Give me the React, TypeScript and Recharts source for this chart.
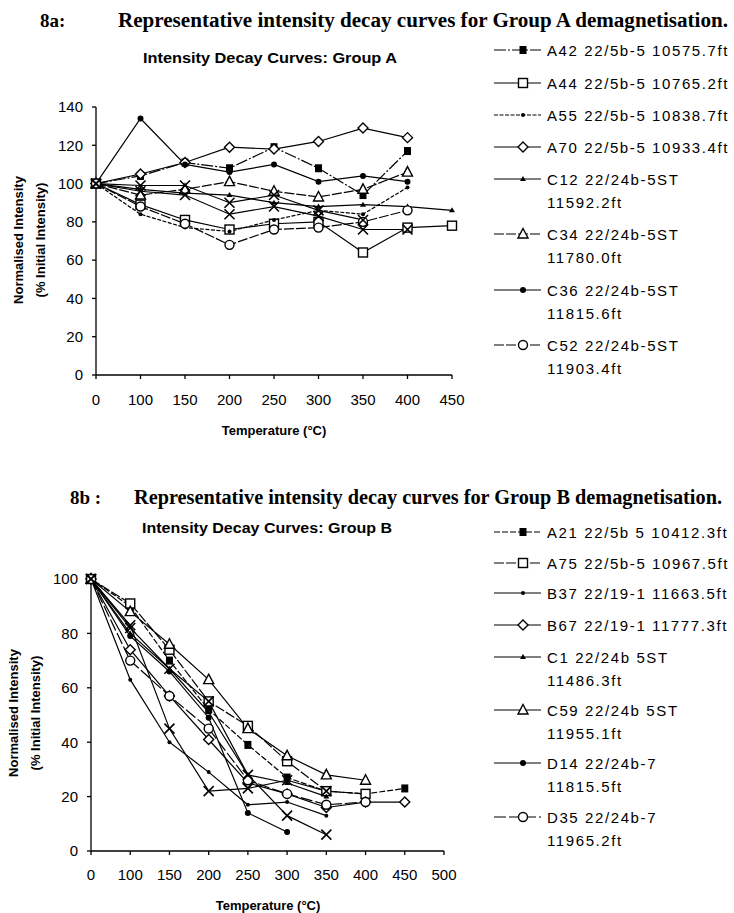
import { LineChart, Line, XAxis, YAxis } from "recharts";

// Group A (8a) – temperature steps and normalised intensity (%)
const tempA = ["0", "100", "150", "200", "250", "300", "350", "400", "450"];
const a42 = [100, 104, 111, 108, 119, 108, 94, 117, null];
const a44 = [100, 89, 81, 76, 79, 80, 64, 77, 78];
const a55 = [100, 84, 77, 75, 81, 86, 84, 98, null];
const a70 = [100, 105, 111, 119, 118, 122, 129, 124, null];
const c12 = [100, 97, 95, 94, 90, 88, 89, 88, 86];
const c34 = [100, 94, 97, 101, 96, 93, 97, 106, null];
const c36 = [100, 134, 110, 106, 110, 101, 104, 101, null];
const c52 = [100, 88, 79, 68, 76, 77, 80, 86, null];
const xa1 = [100, 99, 99, 90, 94, 86, 81, null, null];
const xa2 = [100, 96, 94, 84, 88, 83, 76, 76, null];

// Group B (8b)
const tempB = ["0", "100", "150", "200", "250", "300", "350", "400", "450", "500"];
const a21 = [100, 90, 70, 52, 39, 27, 22, 21, 23, null];
const a75 = [100, 91, 74, 55, 46, 33, 22, 21, null, null];
const b37 = [100, 63, 40, 29, 17, 18, 13, null, null, null];
const b67 = [100, 74, 57, 41, 25, 21, 16, 18, 18, null];
const c1 = [100, 80, 67, 51, 28, 25, 20, null, null, null];
const c59 = [100, 88, 76, 63, 45, 35, 28, 26, null, null];
const d14 = [100, 79, 66, 49, 14, 7, null, null, null, null];
const d35 = [100, 70, 57, 45, 26, 21, 17, 18, null, null];
const xb1 = [100, 83, 45, 22, 23, 26, 22, null, null, null];
const xb2 = [100, 82, 67, 55, 28, 13, 6, null, null, null];

const ticksA = [0, 20, 40, 60, 80, 100, 120, 140];
const ticksB = [0, 20, 40, 60, 80, 100];

type Shape = "sq" | "osq" | "dot" | "dia" | "tri" | "otri" | "circ" | "ocirc" | "x";

interface Series {
  key: string;
  label?: string[];
  values: (number | null)[];
  shape: Shape;
  dash?: string;
}

const seriesA: Series[] = [
  { key: "A42", label: ["A42 22/5b-5 10575.7ft"], values: a42, shape: "sq", dash: "12 2 2 2" },
  { key: "A44", label: ["A44 22/5b-5 10765.2ft"], values: a44, shape: "osq" },
  { key: "A55", label: ["A55 22/5b-5 10838.7ft"], values: a55, shape: "dot", dash: "4 1.5" },
  { key: "A70", label: ["A70 22/5b-5 10933.4ft"], values: a70, shape: "dia" },
  { key: "C12", label: ["C12 22/24b-5ST", "11592.2ft"], values: c12, shape: "tri" },
  { key: "C34", label: ["C34 22/24b-5ST", "11780.0ft"], values: c34, shape: "otri", dash: "10 2" },
  { key: "C36", label: ["C36 22/24b-5ST", "11815.6ft"], values: c36, shape: "circ" },
  { key: "C52", label: ["C52 22/24b-5ST", "11903.4ft"], values: c52, shape: "ocirc", dash: "10 2" },
  { key: "XA1", values: xa1, shape: "x" },
  { key: "XA2", values: xa2, shape: "x" },
];

const seriesB: Series[] = [
  { key: "A21", label: ["A21 22/5b 5 10412.3ft"], values: a21, shape: "sq", dash: "6 2" },
  { key: "A75", label: ["A75 22/5b-5 10967.5ft"], values: a75, shape: "osq", dash: "10 2" },
  { key: "B37", label: ["B37 22/19-1 11663.5ft"], values: b37, shape: "dot" },
  { key: "B67", label: ["B67 22/19-1 11777.3ft"], values: b67, shape: "dia" },
  { key: "C1", label: ["C1 22/24b 5ST", "11486.3ft"], values: c1, shape: "tri" },
  { key: "C59", label: ["C59 22/24b 5ST", "11955.1ft"], values: c59, shape: "otri" },
  { key: "D14", label: ["D14 22/24b-7", "11815.5ft"], values: d14, shape: "circ" },
  { key: "D35", label: ["D35 22/24b-7", "11965.2ft"], values: d35, shape: "ocirc", dash: "12 3" },
  { key: "XB1", values: xb1, shape: "x" },
  { key: "XB2", values: xb2, shape: "x" },
];

const buildRows = (cats: string[], series: Series[]) =>
  cats.map((t, i) => {
    const row: Record<string, string | number | null> = { t };
    series.forEach((s) => (row[s.key] = s.values[i] ?? null));
    return row;
  });

const dataA = buildRows(tempA, seriesA);
const dataB = buildRows(tempB, seriesB);

const SANS = "'Liberation Sans', Arial, sans-serif";
const SERIF = "'Liberation Serif', 'Times New Roman', serif";

const Mark = ({ cx, cy, shape }: { cx: number; cy: number; shape: Shape }) => {
  switch (shape) {
    case "sq":
      return <rect x={cx - 3.5} y={cy - 4} width={7} height={8} fill="#000" />;
    case "osq":
      return <rect x={cx - 4.5} y={cy - 4.5} width={9} height={9} fill="#fff" stroke="#000" strokeWidth={1.4} />;
    case "dot":
      return <circle cx={cx} cy={cy} r={2} fill="#000" />;
    case "dia":
      return (
        <polygon
          points={`${cx},${cy - 5} ${cx + 5},${cy} ${cx},${cy + 5} ${cx - 5},${cy}`}
          fill="#fff"
          stroke="#000"
          strokeWidth={1.4}
        />
      );
    case "tri":
      return <polygon points={`${cx},${cy - 3} ${cx + 3},${cy + 2} ${cx - 3},${cy + 2}`} fill="#000" />;
    case "otri":
      return (
        <polygon
          points={`${cx},${cy - 5.5} ${cx + 5},${cy + 4} ${cx - 5},${cy + 4}`}
          fill="#fff"
          stroke="#000"
          strokeWidth={1.4}
        />
      );
    case "circ":
      return <circle cx={cx} cy={cy} r={3} fill="#000" />;
    case "ocirc":
      return <circle cx={cx} cy={cy} r={4.5} fill="#fff" stroke="#000" strokeWidth={1.4} />;
    case "x":
      return (
        <g stroke="#000" strokeWidth={1.6}>
          <line x1={cx - 5} y1={cy - 5} x2={cx + 5} y2={cy + 5} />
          <line x1={cx - 5} y1={cy + 5} x2={cx + 5} y2={cy - 5} />
        </g>
      );
  }
  return null;
};

const renderLines = (series: Series[]) =>
  series.map((s) => (
    <Line
      key={s.key}
      dataKey={s.key}
      stroke="#000"
      strokeWidth={1.2}
      strokeDasharray={s.dash}
      isAnimationActive={false}
      dot={(p: any) =>
        p.cy == null || p.value == null ? (
          <g key={`${s.key}-${p.index}`} />
        ) : (
          <Mark key={`${s.key}-${p.index}`} cx={p.cx} cy={p.cy} shape={s.shape} />
        )
      }
      activeDot={false}
    />
  ));

const tickStyle = { fontSize: 15, fill: "#000", fontFamily: SANS };

const Legend = ({ series, ys }: { series: Series[]; ys: number[] }) => (
  <g>
    {series
      .filter((s) => s.label)
      .map((s, i) => (
        <g key={s.key}>
          <line x1={494} x2={541} y1={ys[i]} y2={ys[i]} stroke="#000" strokeWidth={1.2} strokeDasharray={s.dash} />
          <Mark cx={523} cy={ys[i]} shape={s.shape} />
          {s.label!.map((t, j) => (
            <text
              key={j}
              x={547}
              y={ys[i] + j * 23}
              dominantBaseline="central"
              fontFamily={SANS}
              fontSize={15}
              letterSpacing={1.6}
            >
              {t}
            </text>
          ))}
        </g>
      ))}
  </g>
);

const legendYA = [50, 83, 115, 147, 179, 234, 290, 345];
const legendYB = [532, 563, 593, 625, 657, 710, 763, 817];

export default function App() {
  return (
    <div style={{ position: "absolute", left: 0, top: 0, width: 734, height: 913, background: "#fff" }}>
      <div style={{ position: "absolute", left: 0, top: 0 }}>
        <LineChart width={470} height={440} data={dataA} margin={{ top: 107, right: 18, bottom: 5, left: 36 }}>
          <XAxis
            dataKey="t"
            interval={0}
            tickSize={4}
            tickMargin={15}
            height={60}
            tick={tickStyle}
            stroke="#000"
            strokeWidth={1.3}
          />
          <YAxis
            domain={[0, 140]}
            ticks={ticksA}
            width={60}
            tickSize={4}
            tickMargin={9}
            tick={tickStyle}
            stroke="#000"
            strokeWidth={1.3}
          />
          {renderLines(seriesA)}
        </LineChart>
      </div>
      <div style={{ position: "absolute", left: 0, top: 470 }}>
        <LineChart width={460} height={440} data={dataB} margin={{ top: 109, right: 16, bottom: 4, left: 36 }}>
          <XAxis
            dataKey="t"
            interval={0}
            tickSize={4}
            tickMargin={14}
            height={55}
            tick={tickStyle}
            stroke="#000"
            strokeWidth={1.3}
          />
          <YAxis
            domain={[0, 100]}
            ticks={ticksB}
            width={55}
            tickSize={4}
            tickMargin={9}
            tick={tickStyle}
            stroke="#000"
            strokeWidth={1.3}
          />
          {renderLines(seriesB)}
        </LineChart>
      </div>
      <svg width={734} height={913} style={{ position: "absolute", left: 0, top: 0, pointerEvents: "none" }}>
        {/* 8a headings */}
        <text x={40} y={20} dominantBaseline="central" fontFamily={SERIF} fontWeight="bold" fontSize={19}>
          8a:
        </text>
        <text
          x={118}
          y={20}
          dominantBaseline="central"
          fontFamily={SERIF}
          fontWeight="bold"
          fontSize={20}
          textLength={610}
          lengthAdjust="spacingAndGlyphs"
        >
          Representative intensity decay curves for Group A demagnetisation.
        </text>
        <text
          x={270}
          y={58}
          textAnchor="middle"
          dominantBaseline="central"
          fontFamily={SANS}
          fontWeight="bold"
          fontSize={14}
          textLength={254}
          lengthAdjust="spacingAndGlyphs"
        >
          Intensity Decay Curves: Group A
        </text>
        <g fontFamily={SANS} fontWeight="bold" fontSize={13}>
          <text x={18} y={240} transform="rotate(-90 18 240)" textAnchor="middle" dominantBaseline="central">
            Normalised Intensity
          </text>
          <text x={40} y={240} transform="rotate(-90 40 240)" textAnchor="middle" dominantBaseline="central">
            (% Initial Intensity)
          </text>
          <text x={274} y={430} textAnchor="middle" dominantBaseline="central">
            Temperature (°C)
          </text>
        </g>
        <Legend series={seriesA} ys={legendYA} />

        {/* 8b headings */}
        <text x={70} y={497} dominantBaseline="central" fontFamily={SERIF} fontWeight="bold" fontSize={19}>
          8b :
        </text>
        <text
          x={134}
          y={497}
          dominantBaseline="central"
          fontFamily={SERIF}
          fontWeight="bold"
          fontSize={20}
          textLength={588}
          lengthAdjust="spacingAndGlyphs"
        >
          Representative intensity decay curves for Group B demagnetisation.
        </text>
        <text
          x={267}
          y={528}
          textAnchor="middle"
          dominantBaseline="central"
          fontFamily={SANS}
          fontWeight="bold"
          fontSize={14}
          textLength={250}
          lengthAdjust="spacingAndGlyphs"
        >
          Intensity Decay Curves: Group B
        </text>
        <g fontFamily={SANS} fontWeight="bold" fontSize={13}>
          <text x={13} y={713} transform="rotate(-90 13 713)" textAnchor="middle" dominantBaseline="central">
            Normalised Intensity
          </text>
          <text x={35} y={713} transform="rotate(-90 35 713)" textAnchor="middle" dominantBaseline="central">
            (% Initial Intensity)
          </text>
          <text x={268} y={905} textAnchor="middle" dominantBaseline="central">
            Temperature (°C)
          </text>
        </g>
        <Legend series={seriesB} ys={legendYB} />
      </svg>
    </div>
  );
}
